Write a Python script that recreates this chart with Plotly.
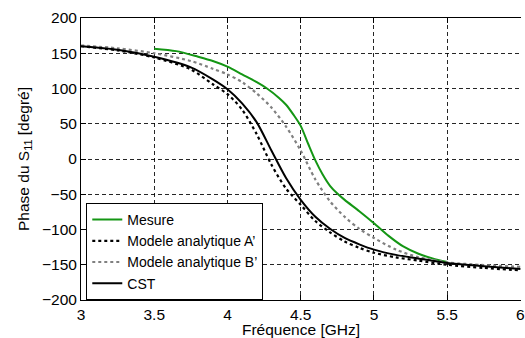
import plotly.graph_objects as go

# ---- data ----
freq_model = [3.0, 3.25, 3.5, 3.75, 3.9, 4.0, 4.1, 4.2, 4.3, 4.4, 4.5, 4.6, 4.7,
              4.8, 4.9, 5.0, 5.15, 5.3, 5.5, 5.75, 6.0]
cst = [160, 155, 145, 130, 113, 99, 79, 52, 12, -27, -58, -82, -99,
       -112, -121, -128.5, -136, -141, -147.5, -152, -156]
model_a = [160, 154, 144, 127, 106, 92, 70, 35, -8, -42, -65, -88, -104,
           -117, -126, -133, -139.5, -144, -150, -154.5, -158]
model_b = [161, 157, 150, 139, 128, 120, 109, 93, 73, 46, 12, -29, -60,
           -82, -99, -112, -128.5, -139, -146.5, -150.5, -153]

freq_mes = [3.5, 3.65, 3.8, 3.9, 4.0, 4.1, 4.2, 4.27, 4.35, 4.4, 4.45, 4.5, 4.55,
            4.6, 4.65, 4.7, 4.75, 4.8, 4.9, 5.0, 5.1, 5.2, 5.3, 5.4, 5.5]
mesure = [156.5, 153, 145, 139, 131, 120, 109, 100, 87, 77, 63, 47, 22,
          -2, -22, -38, -49, -58, -74, -91, -109, -124, -134, -141, -146]

x_ticks = [3, 3.5, 4, 4.5, 5, 5.5, 6]
y_ticks = [-200, -150, -100, -50, 0, 50, 100, 150, 200]

FONT = "Liberation Sans, Arial, sans-serif"
FS = 15.5
LEG_FS = 14
GREEN = "rgb(20,150,20)"

fig = go.Figure()
fig.add_trace(go.Scatter(x=freq_mes, y=mesure, mode="lines", name="Mesure",
                         line=dict(color=GREEN, width=2, shape="spline", smoothing=0.8)))
fig.add_trace(go.Scatter(x=freq_model, y=model_a, mode="lines", name="Modele analytique A\u2019",
                         line=dict(color="black", width=2.2, dash="3px,3px", shape="spline", smoothing=0.8)))
fig.add_trace(go.Scatter(x=freq_model, y=model_b, mode="lines", name="Modele analytique B\u2019",
                         line=dict(color="rgb(128,128,128)", width=2.2, dash="3px,3px", shape="spline", smoothing=0.8)))
fig.add_trace(go.Scatter(x=freq_model, y=cst, mode="lines", name="CST",
                         line=dict(color="black", width=2, shape="spline", smoothing=0.8)))

fig.update_layout(
    width=525, height=338,
    margin=dict(l=81, r=0, t=18, b=38),
    paper_bgcolor="white", plot_bgcolor="white",
    font=dict(family=FONT, size=FS, color="black"),
    showlegend=True,
    legend=dict(x=0.012, y=0.0, xanchor="left", yanchor="bottom",
                bgcolor="white", bordercolor="black", borderwidth=1,
                font=dict(family=FONT, size=LEG_FS, color="black"),
                tracegroupgap=0, itemwidth=30),
)
fig.update_xaxes(
    range=[3, 6.004], tickvals=x_ticks, ticktext=[f"{v:g}" for v in x_ticks],
    ticks="inside", ticklen=5, tickcolor="black",
    showline=True, linecolor="black", linewidth=1, mirror="ticks",
    showgrid=True, gridcolor="rgba(0,0,0,0.85)", griddash="4px,3px", gridwidth=1,
    zeroline=False, ticklabeloverflow="allow",
    tickfont=dict(family=FONT, size=FS),
    title=dict(text="Fréquence [GHz]", standoff=0, font=dict(family=FONT, size=FS)),
)
fig.update_yaxes(
    range=[-200, 200], tickvals=y_ticks,
    ticktext=[("\u2212" + str(-v)) if v < 0 else str(v) for v in y_ticks],
    ticks="inside", ticklen=5, tickcolor="black",
    showline=True, linecolor="black", linewidth=1, mirror=False,
    showgrid=True, gridcolor="rgba(0,0,0,0.85)", griddash="4px,3px", gridwidth=1,
    zeroline=False,
    tickfont=dict(family=FONT, size=FS),
    title=dict(text="Phase du S<sub>11</sub> [degré]", standoff=8, font=dict(family=FONT, size=FS)),
)

fig.write_html("out.html",
               config={"displayModeBar": False},
               post_script="document.body.style.margin='0';document.body.style.overflow='hidden';")
